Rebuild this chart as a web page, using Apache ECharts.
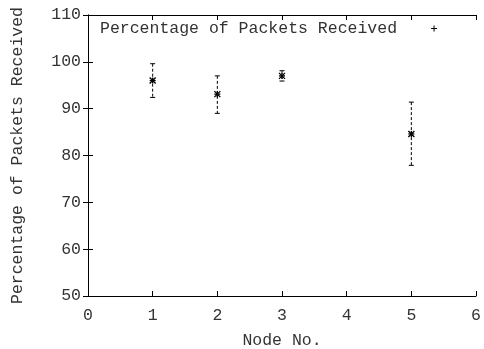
<!DOCTYPE html>
<html>
<head>
<meta charset="utf-8">
<script src="https://cdn.jsdelivr.net/npm/echarts@6/dist/echarts.min.js"></script>
<style>html,body{margin:0;padding:0;background:#fff;}#c{width:484px;height:349px;}</style>
</head>
<body>
<div id="c"></div>
<script>
const nodes = [1, 2, 3, 5];
const means = [96.0, 93.1, 97.0, 84.6];
const lows  = [92.4, 89.0, 95.9, 77.9];
const highs = [99.6, 97.0, 98.1, 91.4];
const xTicks = [0, 1, 2, 3, 4, 5, 6];
const yTicks = [50, 60, 70, 80, 90, 100, 110];
const seriesName = 'Percentage of Packets Received';

const FONT = 'Liberation Mono';
const TXT = '#333';
const data = nodes.map((n, i) => [n, means[i], lows[i], highs[i]]);

const chart = echarts.init(document.getElementById('c'), null, {renderer: 'canvas'});
const axisCommon = {
  type: 'value',
  axisLine: {show: true, lineStyle: {color: '#000', width: 1}},
  axisTick: {show: true, inside: true, length: 5, lineStyle: {color: '#000'}},
  splitLine: {show: false},
};
chart.setOption({
  animation: false,
  backgroundColor: '#fff',
  grid: {left: 88, right: 8, top: 15, bottom: 53, containLabel: false, outerBoundsMode: 'none'},
  legend: {
    left: 100, top: 20, padding: 0, align: 'right',
    itemWidth: 64, itemHeight: 6,
    textStyle: {fontFamily: FONT, fontSize: 16.5, color: TXT},
    data: [{name: seriesName, icon: 'path://M3,0L3,6M0,3L6,3', itemStyle: {color: 'none', borderColor: '#000', borderWidth: 1}}]
  },
  xAxis: [
    Object.assign({}, axisCommon, {
      min: xTicks[0], max: xTicks[xTicks.length - 1], interval: 1,
      name: 'Node No.', nameLocation: 'middle', nameGap: 36,
      nameTextStyle: {fontFamily: FONT, fontSize: 16.5, color: TXT},
      axisLabel: {fontFamily: FONT, fontSize: 16.5, color: TXT, margin: 11}
    }),
    Object.assign({}, axisCommon, {
      position: 'top', min: xTicks[0], max: xTicks[xTicks.length - 1], interval: 1,
      axisLabel: {show: false}
    })
  ],
  yAxis: [
    Object.assign({}, axisCommon, {
      min: yTicks[0], max: yTicks[yTicks.length - 1], interval: 10,
      name: seriesName, nameLocation: 'middle', nameGap: 62,
      nameTextStyle: {fontFamily: FONT, fontSize: 16.5, color: TXT},
      axisLabel: {fontFamily: FONT, fontSize: 16.5, color: TXT, margin: 7}
    }),
    Object.assign({}, axisCommon, {
      position: 'right', min: yTicks[0], max: yTicks[yTicks.length - 1], interval: 10,
      axisLabel: {show: false}
    })
  ],
  series: [{
    name: seriesName,
    type: 'custom',
    xAxisIndex: 0, yAxisIndex: 0,
    encode: {x: 0, y: [1, 2, 3]},
    data: data,
    renderItem: function (params, api) {
      const x = api.value(0);
      const c = api.coord([x, api.value(1)]);
      const lo = api.coord([x, api.value(2)]);
      const hi = api.coord([x, api.value(3)]);
      const cw = 2.5, m = 3;
      const st = {stroke: '#000', lineWidth: 1};
      return {
        type: 'group',
        children: [
          {type: 'line', shape: {x1: c[0], y1: hi[1], x2: c[0], y2: lo[1]}, style: {stroke: '#000', lineWidth: 1, lineDash: [3, 2]}},
          {type: 'line', shape: {x1: c[0] - cw, y1: hi[1], x2: c[0] + cw, y2: hi[1]}, style: st},
          {type: 'line', shape: {x1: c[0] - cw, y1: lo[1], x2: c[0] + cw, y2: lo[1]}, style: st},
          {type: 'line', shape: {x1: c[0] - m, y1: c[1], x2: c[0] + m, y2: c[1]}, style: {stroke: '#000', lineWidth: 1.3}},
          {type: 'line', shape: {x1: c[0], y1: c[1] - m, x2: c[0], y2: c[1] + m}, style: {stroke: '#000', lineWidth: 1.3}},
          {type: 'line', shape: {x1: c[0] - m, y1: c[1] - m, x2: c[0] + m, y2: c[1] + m}, style: {stroke: '#000', lineWidth: 1.3}},
          {type: 'line', shape: {x1: c[0] - m, y1: c[1] + m, x2: c[0] + m, y2: c[1] - m}, style: {stroke: '#000', lineWidth: 1.3}}
        ]
      };
    }
  }]
});
</script>
</body>
</html>
